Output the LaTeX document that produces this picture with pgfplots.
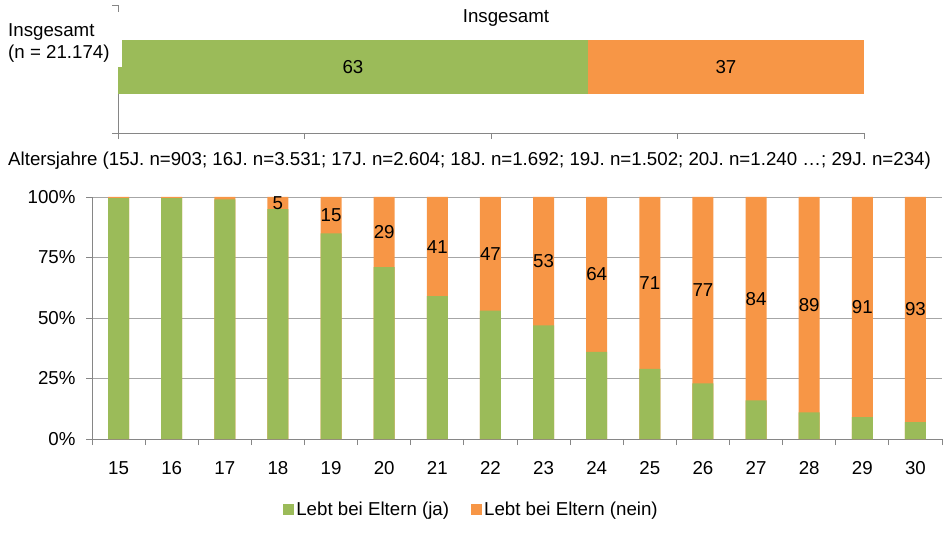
\documentclass[border=0pt]{standalone}
\usepackage{fontspec}
\setmainfont{Liberation Sans}
\usepackage{pgfplots}
\usepackage{pgfplotstable}
\pgfplotsset{compat=1.18}
\pgfplotsset{/pgf/number format/assume math mode=true}
\definecolor{cgreen}{HTML}{9BBB59}
\definecolor{corange}{HTML}{F79646}
\definecolor{cgrid}{HTML}{A6A6A6}
\definecolor{caxis}{HTML}{868686}
\newcommand{\fs}{\fontsize{18.7bp}{22bp}\selectfont}

\pgfplotstableread{
x  ja    tot
15 99.5  100
16 99.5  100
17 99    100
18 95    100
19 85    100
20 71    100
21 59    100
22 53    100
23 47    100
24 36    100
25 29    100
26 23    100
27 16    100
28 11    100
29 9     100
30 7     100
}\data

\pgfplotstableread{
x  pos   lab
18 97.5  5
19 92.5  15
20 85.5  29
21 79.5  41
22 76.5  47
23 73.5  53
24 68    64
25 64.5  71
26 61.5  77
27 58    84
28 55.5  89
29 54.5  91
30 53.5  93
}\labels

\begin{document}
\begin{tikzpicture}
\path[use as bounding box] (0,0) rectangle (949bp,538bp);

% ---------- top axis: Insgesamt ----------
\begin{axis}[
  at={(118bp,405bp)}, anchor=south west, scale only axis,
  width=746bp, height=128bp,
  xmin=0, xmax=100, ymin=0, ymax=1,
  xtick={0,25,50,75,100}, xticklabels={},
  ytick={0,1}, yticklabels={},
  axis x line*=bottom, axis y line*=left,
  axis line style={caxis, line width=0.8bp, -},
  tick style={caxis, line width=0.8bp},
  tick align=outside, major tick length=6bp,
  clip=false,
]
\addplot[xbar, bar width=54bp, bar shift=0pt, fill=corange, draw=none] coordinates {(100,0.516)};
\addplot[xbar, bar width=54bp, bar shift=0pt, fill=cgreen, draw=none] coordinates {(63,0.516)};
\addplot[only marks, mark=none, nodes near coords, point meta=explicit symbolic,
  nodes near coords align={center},
  every node near coord/.append style={font=\fs, text=black}]
  coordinates {(31.5,0.516)[63] (81.5,0.516)[37]};
\end{axis}

\fill[white] (0bp,471bp) rectangle (122bp,526bp);
\node[anchor=north west, align=left, font=\fs, inner sep=0pt] at (8bp,515bp) {Insgesamt\\(n = 21.174)};
\node[font=\fs] at (506bp,520bp) {Insgesamt};
\node[font=\fs, anchor=west, inner sep=0pt] at (8bp,377bp) {Altersjahre (15J. n=903; 16J. n=3.531; 17J. n=2.604; 18J. n=1.692; 19J. n=1.502; 20J. n=1.240 …; 29J. n=234)};

% ---------- bottom axis: by age ----------
\begin{axis}[
  at={(92bp,99bp)}, anchor=south west, scale only axis,
  width=850bp, height=242bp,
  xmin=14.5, xmax=30.5, ymin=0, ymax=100,
  xtick={15,...,30},
  minor xtick={14.5,15.5,...,30.5},
  ytick={0,25,50,75,100},
  yticklabels={0\%,25\%,50\%,75\%,100\%},
  ymajorgrids,
  grid style={cgrid, line width=0.8bp},
  axis x line*=bottom, axis y line*=left,
  axis line style={caxis, line width=0.8bp, -},
  tick style={caxis, line width=0.8bp},
  major x tick style={draw=none},
  tick align=outside, major tick length=6bp, minor tick length=6bp,
  tick label style={font=\fs, text=black},
  xticklabel style={yshift=-13bp},
  yticklabel style={xshift=-7bp},
  clip=false,
  reverse legend,
  legend style={at={(0.4465,-0.293)}, anchor=center, draw=none, fill=none,
    legend columns=2, font=\fs,
    /tikz/every even column/.append style={column sep=20bp}},
]
\addplot[ybar, bar width=21bp, bar shift=0pt, fill=corange, draw=none,
  legend image code/.code={\fill[corange] (0bp,-5.5bp) rectangle (11bp,5.5bp);}]
  table[x=x, y=tot] {\data};
\addlegendentry{Lebt bei Eltern (nein)}
\addplot[ybar, bar width=21bp, bar shift=0pt, fill=cgreen, draw=none,
  legend image code/.code={\fill[cgreen] (0bp,-5.5bp) rectangle (11bp,5.5bp);}]
  table[x=x, y=ja] {\data};
\addlegendentry{Lebt bei Eltern (ja)}
\addplot[forget plot, only marks, mark=none, nodes near coords, point meta=explicit symbolic,
  nodes near coords align={center},
  every node near coord/.append style={font=\fs, text=black}]
  table[x=x, y=pos, meta=lab] {\labels};
\end{axis}
\end{tikzpicture}
\end{document}
